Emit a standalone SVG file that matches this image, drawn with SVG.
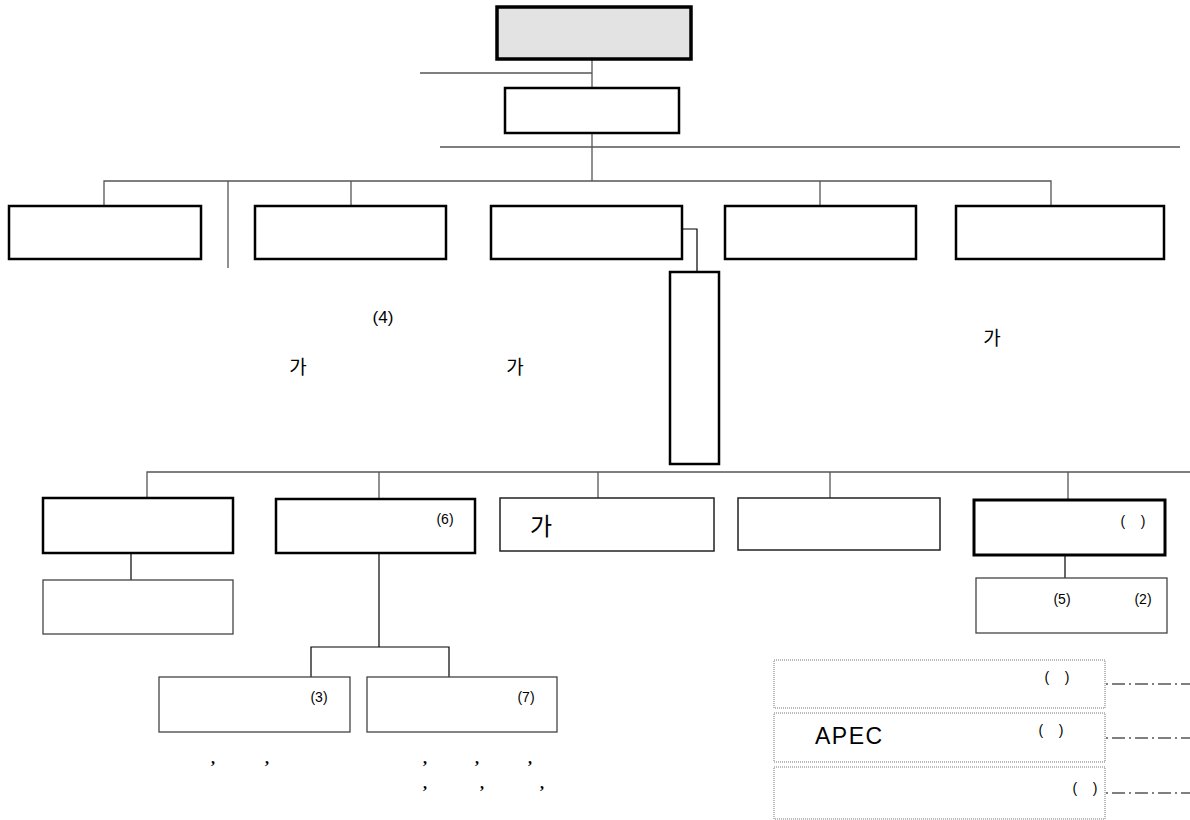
<svg xmlns="http://www.w3.org/2000/svg" width="1190" height="820" viewBox="0 0 1190 820">
<style>
.bx{fill:#fff;stroke:#000;stroke-width:2.5}
.bk{fill:#fff;stroke:#000;stroke-width:3}
.tn{fill:#fff;stroke:#222;stroke-width:1.5}
.sb{fill:#fff;stroke:#444;stroke-width:1.3}
.dt{fill:#fff;stroke:#777;stroke-width:1;stroke-dasharray:1,1}
.ln{fill:none;stroke:#555;stroke-width:1.3}
.lk{fill:none;stroke:#000;stroke-width:1.2}
.dd{fill:none;stroke:#000;stroke-width:1;stroke-dasharray:2,4,13,4}
.s{font-family:"Liberation Sans",Arial,sans-serif;font-size:14px;fill:#000}
.k{font-family:"Noto Sans CJK KR","Noto Sans",sans-serif;fill:#000}
.c{font-family:"Liberation Serif",serif;font-size:16px;font-weight:bold;fill:#000}
</style>
<g id="connectors">
<line class="ln" x1="592" y1="60" x2="592" y2="87"/>
<line class="ln" x1="420" y1="73" x2="592" y2="73"/>
<line class="ln" x1="592" y1="133" x2="592" y2="181"/>
<line class="ln" x1="440" y1="147" x2="1180" y2="147"/>
<polyline class="ln" points="104,205 104,181 1051,181 1051,205"/>
<line class="ln" x1="351" y1="181" x2="351" y2="205"/>
<line class="ln" x1="820" y1="181" x2="820" y2="205"/>
<line class="ln" x1="228" y1="181" x2="228" y2="268"/>
<polyline class="lk" points="682,229 697,229 697,272"/>
<polyline class="ln" points="147,498 147,472 1190,472"/>
<line class="ln" x1="379" y1="472" x2="379" y2="498"/>
<line class="ln" x1="598" y1="472" x2="598" y2="498"/>
<line class="ln" x1="830" y1="472" x2="830" y2="498"/>
<line class="ln" x1="1068" y1="472" x2="1068" y2="500"/>
<line class="lk" x1="131" y1="553" x2="131" y2="580"/>
<line class="lk" x1="1065" y1="555" x2="1065" y2="578"/>
<line class="lk" x1="379" y1="553" x2="379" y2="647"/>
<polyline class="lk" points="311,677 311,647 449,647 449,677"/>
<line class="dd" x1="1106" y1="684" x2="1190" y2="684"/>
<line class="dd" x1="1106" y1="738" x2="1190" y2="738"/>
<line class="dd" x1="1106" y1="793" x2="1190" y2="793"/>
</g>
<g id="n-top"><rect x="497" y="7" width="194" height="52" fill="#e3e3e3" stroke="#000" stroke-width="3.5"/></g>
<g id="n-second"><rect class="bx" x="505" y="88" width="174" height="45"/></g>
<g id="n-r1a"><rect class="bx" x="9" y="206" width="192" height="53"/></g>
<g id="n-r1b"><rect class="bx" x="255" y="206" width="191" height="53"/></g>
<g id="n-r1c"><rect class="bx" x="491" y="206" width="191" height="53"/></g>
<g id="n-r1d"><rect class="bx" x="725" y="206" width="191" height="53"/></g>
<g id="n-r1e"><rect class="bx" x="956" y="206" width="208" height="53"/></g>
<g id="n-tall"><rect class="bx" x="670" y="272" width="49" height="192"/></g>
<g id="n-r2a"><rect class="bx" x="43" y="498" width="190" height="55"/></g>
<g id="n-r2a-sub"><rect class="sb" x="43" y="580" width="190" height="54"/></g>
<g id="n-r2b"><rect class="bx" x="276" y="499" width="199" height="54"/><text class="s" x="445" y="524" text-anchor="middle">(6)</text></g>
<g id="n-r2c"><rect class="tn" x="500" y="498" width="214" height="53"/><text class="k" x="541" y="535" font-size="24" text-anchor="middle">가</text></g>
<g id="n-r2d"><rect class="tn" x="738" y="498" width="202" height="52"/></g>
<g id="n-r2e"><rect class="bk" x="974" y="500" width="191" height="55"/><text class="s" x="1133" y="526" text-anchor="middle" xml:space="preserve">(    )</text></g>
<g id="n-r2e-sub"><rect class="sb" x="976" y="578" width="191" height="55"/><text class="s" x="1062" y="604" text-anchor="middle">(5)</text><text class="s" x="1143" y="604" text-anchor="middle">(2)</text></g>
<g id="n-r3a"><rect class="sb" x="159" y="677" width="191" height="55"/><text class="s" x="319" y="702" text-anchor="middle">(3)</text></g>
<g id="n-r3b"><rect class="sb" x="367" y="677" width="190" height="55"/><text class="s" x="526" y="702" text-anchor="middle">(7)</text></g>
<g id="n-d1"><rect class="dt" x="774" y="660" width="331" height="48"/><text class="s" x="1057" y="682" text-anchor="middle" xml:space="preserve">(    )</text></g>
<g id="n-d2"><rect class="dt" x="774" y="713" width="331" height="49"/><text x="815" y="744" font-family="Liberation Sans,Arial,sans-serif" font-size="23" letter-spacing="1.5">APEC</text><text class="s" x="1051" y="735" text-anchor="middle" xml:space="preserve">(    )</text></g>
<g id="n-d3"><rect class="dt" x="774" y="767" width="331" height="52"/><text class="s" x="1085" y="793" text-anchor="middle" xml:space="preserve">(    )</text></g>
<g id="labels">
<text x="383" y="323" font-family="Liberation Sans,Arial,sans-serif" font-size="17" text-anchor="middle">(4)</text>
<text class="k" x="298" y="374" font-size="19" text-anchor="middle">가</text>
<text class="k" x="515" y="374" font-size="19" text-anchor="middle">가</text>
<text class="k" x="992" y="345" font-size="19" text-anchor="middle">가</text>
<text class="c" x="213" y="764" text-anchor="middle">,</text>
<text class="c" x="267" y="764" text-anchor="middle">,</text>
<text class="c" x="425" y="764" text-anchor="middle">,</text>
<text class="c" x="477" y="764" text-anchor="middle">,</text>
<text class="c" x="530" y="764" text-anchor="middle">,</text>
<text class="c" x="425" y="789" text-anchor="middle">,</text>
<text class="c" x="482" y="789" text-anchor="middle">,</text>
<text class="c" x="542" y="789" text-anchor="middle">,</text>
</g>
</svg>
